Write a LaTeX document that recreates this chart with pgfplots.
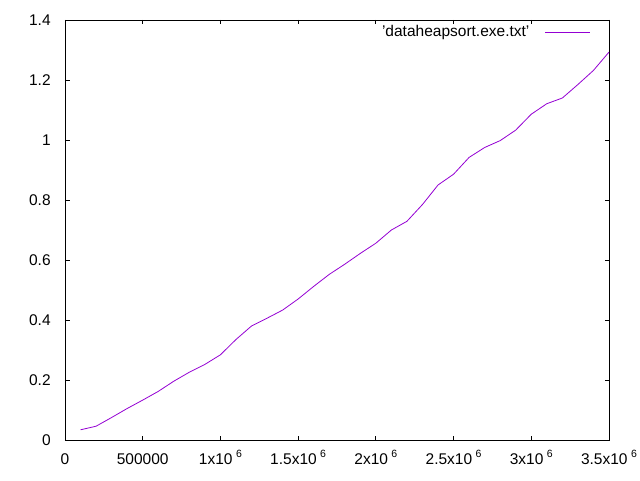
\documentclass[border=0pt]{standalone}
\usepackage{pgfplots}
\pgfplotsset{compat=1.18}
\usepackage{fontspec}
\setmainfont{Liberation Sans}
\definecolor{gpviolet}{HTML}{9400D3}
\newcommand{\T}[1]{{\fontsize{15.5}{18}\selectfont #1}}
\newcommand{\sci}[1]{{\fontsize{15.5}{18}\selectfont #1x10\hspace{3.5pt}\raisebox{7pt}{\fontsize{10.5}{11}\selectfont 6}}}
\begin{document}
\fontsize{15.5}{18}\selectfont
\begin{tikzpicture}
\useasboundingbox (-65pt,-40pt) rectangle (575pt,440pt);
\begin{axis}[
  anchor=south west, at={(0,0)},
  scale only axis, width=544pt, height=420pt,
  xmin=0, xmax=3500000, ymin=0, ymax=1.4,
  xtick={0,500000,1000000,1500000,2000000,2500000,3000000,3500000},
  xticklabels={\T{0},\T{500000},\sci{1},\sci{1.5},\sci{2},\sci{2.5},\sci{3},\sci{3.5}},
  ytick={0,0.2,0.4,0.6,0.8,1,1.2,1.4},
  yticklabels={\T{0},\T{0.2},\T{0.4},\T{0.6},\T{0.8},\T{1},\T{1.2},\T{1.4}},
  scaled ticks=false,
  tick align=inside, major tick length=4.5pt,
  tick style={black, line width=0.9pt},
  axis line style={black, line width=0.9pt},
  tick label style={font=\fontsize{15.5}{18}\selectfont},
  xticklabel style={text height=11pt, text depth=0pt, yshift=-8pt},
  yticklabel style={xshift=-9pt},
  legend style={draw=none, fill=none, at={(rel axis cs:1,1)}, anchor=north east, xshift=-15pt, yshift=-1pt, font=\fontsize{15.5}{18}\selectfont},
  legend plot pos=right,
  legend cell align=right,
  legend image code/.code={\path[draw=none, fill=none] (0pt,0pt) -- (59pt,0pt); \draw[#1] (14pt,0pt) -- (59pt,0pt);},
]
\addplot[gpviolet, line width=0.8pt] coordinates {
(100000,0.034) (200000,0.046) (300000,0.075) (400000,0.105) (500000,0.133)
(600000,0.162) (700000,0.196) (800000,0.226) (900000,0.252) (1000000,0.284)
(1100000,0.335) (1200000,0.380) (1300000,0.406) (1400000,0.433) (1500000,0.470)
(1600000,0.512) (1700000,0.552) (1800000,0.586) (1900000,0.622) (2000000,0.656)
(2100000,0.700) (2200000,0.729) (2300000,0.785) (2400000,0.850) (2500000,0.886)
(2600000,0.942) (2700000,0.975) (2800000,0.998) (2900000,1.033) (3000000,1.086)
(3100000,1.121) (3200000,1.140) (3300000,1.185) (3400000,1.232) (3500000,1.293)
};
\addlegendentry{'dataheapsort.exe.txt'}
\end{axis}
\end{tikzpicture}
\end{document}
